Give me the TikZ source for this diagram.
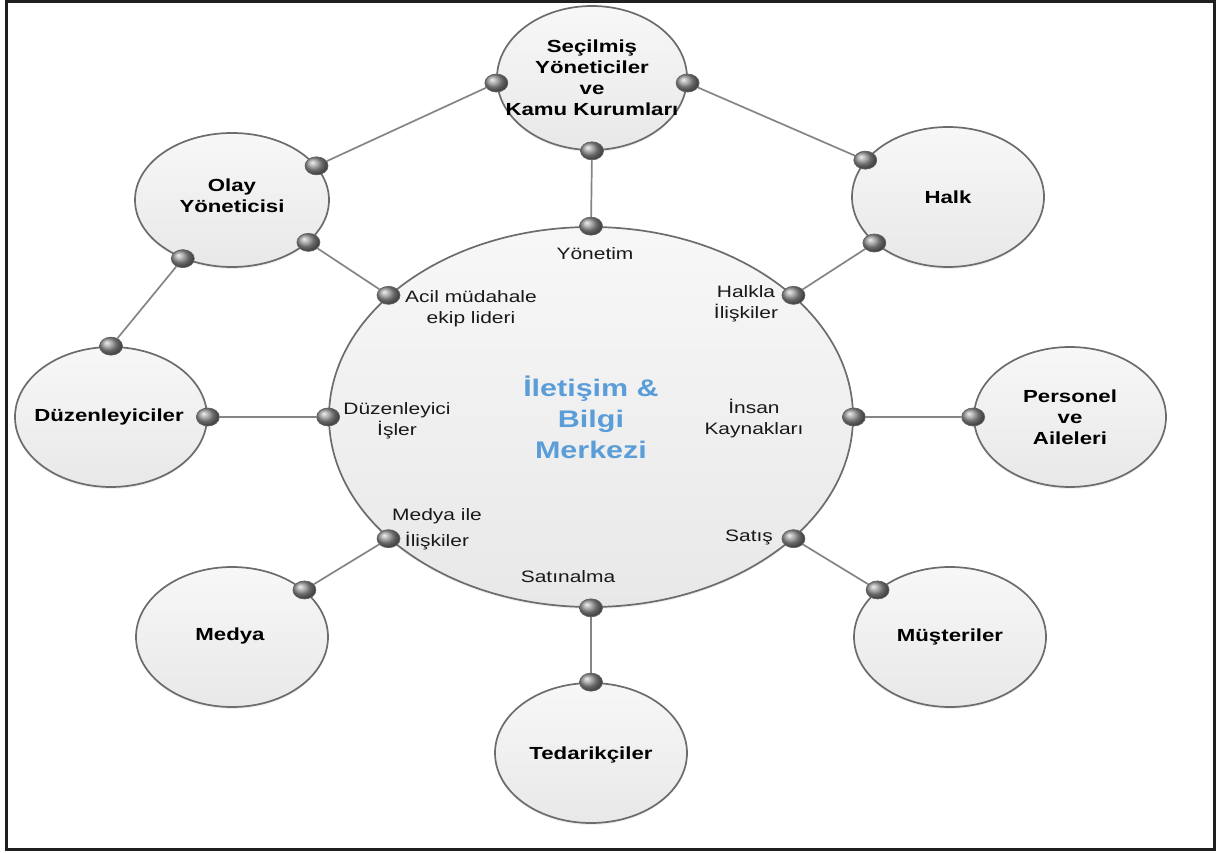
\documentclass[tikz,border=0pt]{standalone}
\usepackage{fontspec}
\newfontfamily\lblfont{Liberation Sans}[FakeStretch=1.27]
\usetikzlibrary{shapes.geometric,shadows}
\pgfdeclarelayer{front}
\pgfsetlayers{main,front}
\definecolor{hubblue}{RGB}{91,157,216}
\definecolor{rimgray}{RGB}{108,108,108}
\tikzset{
  bubble/.style={ellipse, draw=rimgray, line width=1.7pt, top color=black!3, bottom color=black!9,
    inner sep=0pt, minimum width=192pt, minimum height=140pt,
    drop shadow={opacity=0.12, shadow xshift=0pt, shadow yshift=-2pt}},
  hubbubble/.style={bubble, minimum width=524pt, minimum height=380pt},
  knob/.style={ellipse, draw=black!62, line width=0.7pt, shading=ball, ball color=black!42,
    minimum width=23pt, minimum height=18pt, inner sep=0pt},
  link/.style={draw=black!48, line width=1.7pt},
  boxtxt/.style={font=\lblfont\fontsize{17.5}{21}\selectfont\bfseries, align=center, text=black},
  hubtxt/.style={font=\lblfont\fontsize{24}{31}\selectfont\bfseries, align=center, text=hubblue},
  tag/.style={font=\lblfont\fontsize{16.5}{21}\selectfont, align=center, text=black!90},
}
\begin{document}
\begin{tikzpicture}[x=1pt, y=-1pt]
\useasboundingbox (0,0) rectangle (1223,853);
\fill[white] (0,0) rectangle (1223,853);
\draw[line width=3pt, draw=black!88] (6,1.5) rectangle (1214.5,849.5);

% bubbles
\node[hubbubble] (hub) at (591,417) {};
\node[bubble, minimum width=190pt, minimum height=144pt] (sec) at (592,78) {};
\node[bubble, minimum width=194pt, minimum height=134pt] (olay) at (232,200) {};
\node[bubble] (halk) at (948,197) {};
\node[bubble] (duz) at (111,417) {};
\node[bubble] (pers) at (1070,417) {};
\node[bubble] (medya) at (232,637) {};
\node[bubble] (must) at (950,637) {};
\node[bubble] (ted) at (591,753) {};

% texts in the outer bubbles
\node[boxtxt] (sec-t) at (592,78) {Seçilmiş\\Yöneticiler\\ve\\Kamu Kurumları};
\node[boxtxt] (olay-t) at (232,196) {Olay\\Yöneticisi};
\node[boxtxt] (halk-t) at (948,197) {Halk};
\node[boxtxt] (duz-t) at (109,417) {Düzenleyiciler};
\node[boxtxt] (pers-t) at (1070,417) {Personel\\ve\\Aileleri};
\node[boxtxt] (medya-t) at (230,636) {Medya};
\node[boxtxt] (must-t) at (950,637) {Müşteriler};
\node[boxtxt] (ted-t) at (591,755) {Tedarikçiler};

% centre title
\node[hubtxt] (hub-t) at (591,417) {İletişim \&\\Bilgi\\Merkezi};

% labels inside the centre
\node[tag] (l-yon) at (595,254) {Yönetim};
\node[tag] (l-acil) at (471,309) {Acil müdahale\\ekip lideri};
\node[tag] (l-halkla) at (746,304) {Halkla\\İlişkiler};
\node[tag] (l-duz) at (397,421) {Düzenleyici\\İşler};
\node[tag] (l-ins) at (754,419) {İnsan\\Kaynakları};
\node[tag] (l-med) at (437,529) {Medya ile\\[5pt]İlişkiler};
\node[tag] (l-sat) at (749,537) {Satış};
\node[tag] (l-satin) at (568,577) {Satınalma};

% connection knobs
\begin{pgfonlayer}{front}
\node[knob] (h-n) at (hub.north) {};
\node[knob] (h-s) at (hub.south) {};
\node[knob] (h-w) at (hub.west) {};
\node[knob] (h-e) at (hub.east) {};
\node[knob] (h-nw) at (hub.149) {};
\node[knob] (h-ne) at (hub.31) {};
\node[knob] (h-sw) at (hub.211) {};
\node[knob] (h-se) at (hub.329) {};
\node[knob] (s-w) at (sec.183) {};
\node[knob] (s-e) at (sec.357) {};
\node[knob] (s-s) at (sec.south) {};
\node[knob] (o-a) at (olay.22) {};
\node[knob] (o-b) at (olay.331) {};
\node[knob] (o-c) at (olay.230) {};
\node[knob] (k-a) at (halk.156) {};
\node[knob] (k-b) at (halk.212) {};
\node[knob] (d-n) at (duz.north) {};
\node[knob] (d-e) at (duz.east) {};
\node[knob] (p-w) at (pers.west) {};
\node[knob] (m-a) at (medya.33) {};
\node[knob] (u-a) at (must.147) {};
\node[knob] (t-n) at (ted.north) {};
\end{pgfonlayer}

% connectors
\draw[link] (s-s) -- (h-n);
\draw[link] (s-w) -- (o-a);
\draw[link] (s-e) -- (k-a);
\draw[link] (o-b) -- (h-nw);
\draw[link] (o-c) -- (d-n);
\draw[link] (k-b) -- (h-ne);
\draw[link] (d-e) -- (h-w);
\draw[link] (h-e) -- (p-w);
\draw[link] (h-sw) -- (m-a);
\draw[link] (h-se) -- (u-a);
\draw[link] (h-s) -- (t-n);
\end{tikzpicture}
\end{document}
